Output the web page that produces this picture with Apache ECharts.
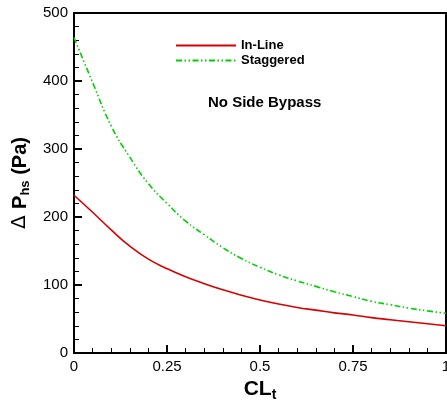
<!DOCTYPE html>
<html>
<head>
<meta charset="utf-8">
<script src="https://cdn.jsdelivr.net/npm/echarts@6/dist/echarts.min.js"></script>
<style>
	html, body { margin: 0; padding: 0; background: #fff; }
	#main { width: 447px; height: 400px; }
</style>
</head>
<body>
<div id="main"></div>
<script>
	// CLt 取样点
	var clValues = [0, 0.05, 0.1, 0.15, 0.2, 0.25, 0.3, 0.35, 0.4, 0.45, 0.5,
		0.55, 0.6, 0.65, 0.7, 0.75, 0.8, 0.85, 0.9, 0.95, 1.0];
	// 压降 (Pa)
	var inLine = [232, 207, 181, 157, 138, 124, 112, 102, 93, 85, 78,
		72, 67, 63, 59, 56, 52, 49, 46, 43, 40];
	var staggered = [464, 398, 334, 288, 249, 220, 194, 174, 155, 139, 126,
		115, 106, 98, 90, 83, 76, 71, 66, 62, 58.5];
	var seriesNames = ['In-Line', 'Staggered'];
	var xTicks = [0, 0.25, 0.5, 0.75, 1];
	var yTicks = [0, 100, 200, 300, 400, 500];

	function pairs(ys) {
		var out = [];
		for (var i = 0; i < clValues.length; i++) {
			out.push([clValues[i], ys[i]]);
		}
		return out;
	}

	var font = 'Liberation Sans, Arial, sans-serif';
	var myChart = echarts.init(document.getElementById('main'));

	var option = {
		animation: false,
		backgroundColor: '#fff',
		textStyle: { fontFamily: font, color: '#000' },
		title: {
			text: 'No Side Bypass',
			left: 203,
			top: 90,
			textStyle: { fontFamily: font, fontSize: 15, fontWeight: 'bold', color: '#000' }
		},
		legend: {
			orient: 'vertical',
			left: 170,
			top: 34,
			itemWidth: 60,
			itemHeight: 14,
			itemGap: 2,
			data: seriesNames,
			// 图例只画线，不画圆点
			itemStyle: { opacity: 0, color: 'rgba(0,0,0,0)', borderWidth: 0 },
			textStyle: { fontFamily: font, fontSize: 13, fontWeight: 'bold', color: '#000' }
		},
		grid: {
			left: 74,
			right: 1,
			top: 13,
			bottom: 47,
			outerBoundsMode: 'none',
			show: true,
			borderColor: '#000',
			borderWidth: 2
		},
		xAxis: {
			type: 'value',
			min: xTicks[0],
			max: xTicks[xTicks.length - 1],
			interval: 0.25,
			name: '{b|CL}{s|t}',
			nameLocation: 'middle',
			nameGap: 21,
			nameTextStyle: {
				rich: {
					b: { fontFamily: font, fontSize: 21, fontWeight: 'bold', color: '#000' },
					s: { fontFamily: font, fontSize: 14, fontWeight: 'bold', color: '#000', verticalAlign: 'bottom', padding: [12, 0, 0, 0] }
				}
			},
			axisLine: { lineStyle: { color: '#000', width: 2 } },
			axisTick: { inside: true, length: 8, lineStyle: { color: '#000', width: 2 } },
			minorTick: { show: true, splitNumber: 5, length: 5, lineStyle: { color: '#000', width: 1 } },
			axisLabel: { fontFamily: font, fontSize: 15, color: '#000', margin: 6 },
			splitLine: { show: false }
		},
		yAxis: {
			type: 'value',
			min: yTicks[0],
			max: yTicks[yTicks.length - 1],
			interval: 100,
			name: '{d|Δ }{b|P}{s|hs}{b| (Pa)}',
			nameLocation: 'middle',
			nameRotate: 90,
			nameGap: 40,
			nameTextStyle: {
				rich: {
					d: { fontFamily: 'DejaVu Sans', fontSize: 20, color: '#000' },
					b: { fontFamily: font, fontSize: 20, fontWeight: 'bold', color: '#000' },
					s: { fontFamily: font, fontSize: 13, fontWeight: 'bold', color: '#000', verticalAlign: 'bottom', padding: [11, 0, 0, 0] }
				}
			},
			axisLine: { show: true, lineStyle: { color: '#000', width: 2 } },
			axisTick: { show: true, inside: true, length: 8, lineStyle: { color: '#000', width: 2 } },
			minorTick: { show: true, splitNumber: 5, length: 5, lineStyle: { color: '#000', width: 1 } },
			axisLabel: { fontFamily: font, fontSize: 15, color: '#000', margin: 6 },
			splitLine: { show: false }
		},
		series: [
			{
				name: seriesNames[0],
				type: 'line',
				smooth: true,
				symbol: 'none',
				data: pairs(inLine),
				lineStyle: { color: '#d80000', width: 1.6 },
				itemStyle: { color: '#d80000' }
			},
			{
				name: seriesNames[1],
				type: 'line',
				smooth: true,
				symbol: 'none',
				data: pairs(staggered),
				lineStyle: { color: '#00d000', width: 1.6, type: [6, 2.5, 1.5, 2.5, 1.5, 2.5] },
				itemStyle: { color: '#00d000' }
			}
		]
	};

	myChart.setOption(option);
</script>
</body>
</html>
